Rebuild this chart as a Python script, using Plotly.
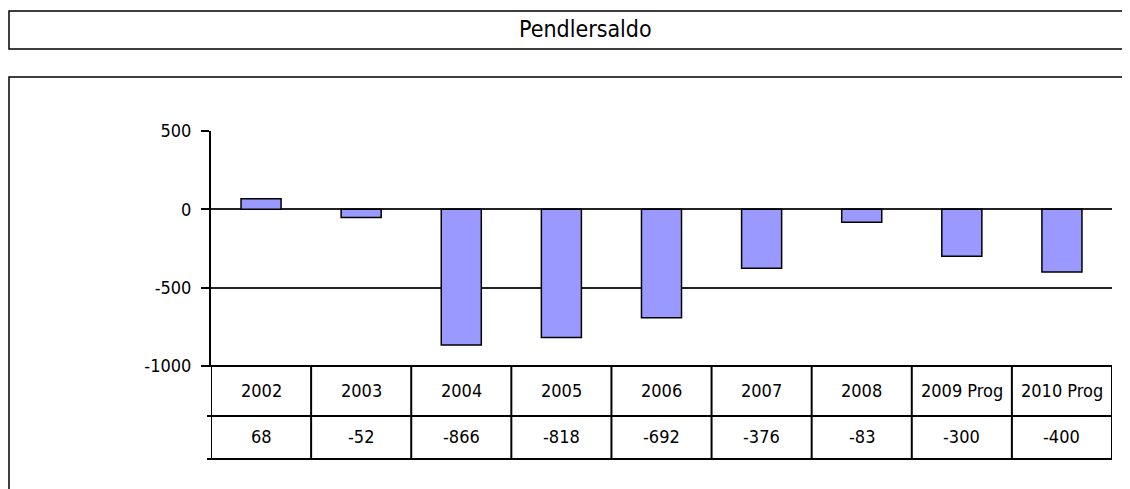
import plotly.graph_objects as go

# data
years = ["2002", "2003", "2004", "2005", "2006", "2007", "2008", "2009 Prog", "2010 Prog"]
saldo = [68, -52, -866, -818, -692, -376, -83, -300, -400]
y_ticks = [500, 0, -500, -1000]

# the page body has an 8px margin, so the figure is a bit smaller and
# every reference pixel position is shifted by OFF
OFF = 8
W, H = 1130 - OFF, 489 - OFF
L, R, T, B = 211, 1112, 131, 366   # plot area in reference pixels


def px(x):
    return (x - L) / (R - L)


def py(y):
    return (B - y) / (B - T)


FONT = "Liberation Sans Narrow, DejaVu Sans Condensed, Liberation Sans, Arial, sans-serif"

fig = go.Figure(go.Bar(
    x=list(range(len(years))),
    y=saldo,
    width=0.4,
    marker=dict(color="#9999FF", line=dict(color="black", width=1.5)),
    hoverinfo="y",
))

shapes = []
line = dict(color="black", width=2)

# outer frames
shapes.append(dict(type="rect", xref="paper", yref="paper",
                   x0=px(OFF + 1), x1=px(1200), y0=py(49), y1=py(11),
                   line=dict(color="black", width=1.5)))
shapes.append(dict(type="rect", xref="paper", yref="paper",
                   x0=px(OFF + 1), x1=px(1200), y0=py(520), y1=py(77),
                   line=dict(color="black", width=1.5)))

# data table under the plot
row1, row2 = py(416), py(459)
for i in range(len(years) + 1):
    shapes.append(dict(type="line", xref="x", yref="paper",
                       x0=i - 0.5, x1=i - 0.5, y0=row2, y1=0, line=line))
shapes.append(dict(type="line", xref="paper", yref="paper",
                   x0=px(203), x1=1, y0=0, y1=0, line=line))
shapes.append(dict(type="line", xref="paper", yref="paper",
                   x0=px(207), x1=1, y0=row1, y1=row1, line=line))
shapes.append(dict(type="line", xref="paper", yref="paper",
                   x0=px(207), x1=1, y0=row2, y1=row2, line=line))

annotations = [dict(text="Pendlersaldo", xref="paper", yref="paper",
                    x=px(585), y=py(29), showarrow=False,
                    xanchor="center", yanchor="middle",
                    font=dict(family=FONT, size=23, color="black"))]
for i, (yr, v) in enumerate(zip(years, saldo)):
    annotations.append(dict(text=yr, xref="x", yref="paper", x=i, y=py(390),
                            xanchor="center", yanchor="middle", showarrow=False,
                            font=dict(family=FONT, size=18, color="black")))
    annotations.append(dict(text=str(v), xref="x", yref="paper", x=i, y=py(436),
                            xanchor="center", yanchor="middle", showarrow=False,
                            font=dict(family=FONT, size=18, color="black")))

fig.update_layout(
    width=W, height=H,
    margin=dict(l=L - OFF, r=W - (R - OFF), t=T - OFF, b=H - (B - OFF), pad=0),
    paper_bgcolor="white", plot_bgcolor="white",
    showlegend=False,
    shapes=shapes,
    annotations=annotations,
    font=dict(family=FONT, size=18, color="black"),
)
fig.update_xaxes(range=[-0.5, len(years) - 0.5], showticklabels=False,
                 showgrid=False, zeroline=False, showline=False, ticks="")
fig.update_yaxes(range=[-1000, 500], tickvals=y_ticks, ticktext=[str(t) for t in y_ticks],
                 showgrid=True, gridcolor="#222", gridwidth=1.5,
                 zeroline=True, zerolinecolor="#222", zerolinewidth=1.5,
                 showline=True, linecolor="black", linewidth=2,
                 ticks="outside", ticklen=8, tickcolor="black", tickwidth=1.5,
                 ticklabelstandoff=6,
                 tickfont=dict(family=FONT, size=18, color="black"))

fig.write_html("out.html")
